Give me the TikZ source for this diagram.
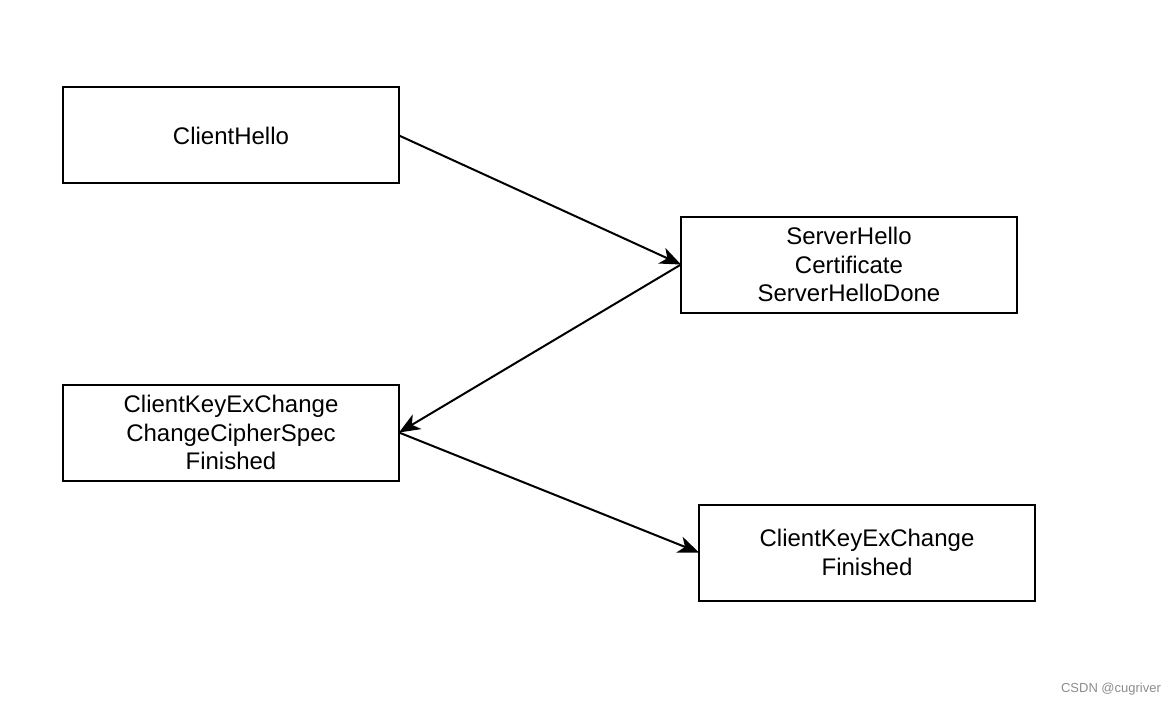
\documentclass[tikz,border=0pt]{standalone}
\usepackage{fontspec}
\setmainfont{Liberation Sans}
\usetikzlibrary{arrows.meta,positioning}

\begin{document}
\begin{tikzpicture}[
		->,
		>={Stealth[length=21pt,width=17pt,inset=6pt]},
		line width=2pt,
		msg node/.style={rectangle,draw,inner sep=0pt,outer sep=0pt,minimum width=336pt,minimum height=96pt,align=center,font=\fontsize{24}{28.5}\selectfont}]

	\useasboundingbox (0pt,0pt) rectangle (1176pt,-706pt);

	\node[msg node] (hello) at (231pt,-135.5pt) {ClientHello};

	\node[msg node] (server) [below right=33pt and 282pt of hello] {ServerHello\\Certificate\\ServerHelloDone};

	\node[msg node] (keyex) [below=201pt of hello] {ClientKeyExChange\\ChangeCipherSpec\\Finished};

	\node[msg node] (finish) [below right=24pt and 300pt of keyex] {ClientKeyExChange\\Finished};

	\node[text=black!45, font=\fontsize{13}{15}\selectfont] (mark) at (1111pt,-689pt) {CSDN @cugriver};

	\path
		(hello.east) edge (server.west)
		(server.west) edge (keyex.east)
		(keyex.east) edge (finish.west)
	;
\end{tikzpicture}
\end{document}
